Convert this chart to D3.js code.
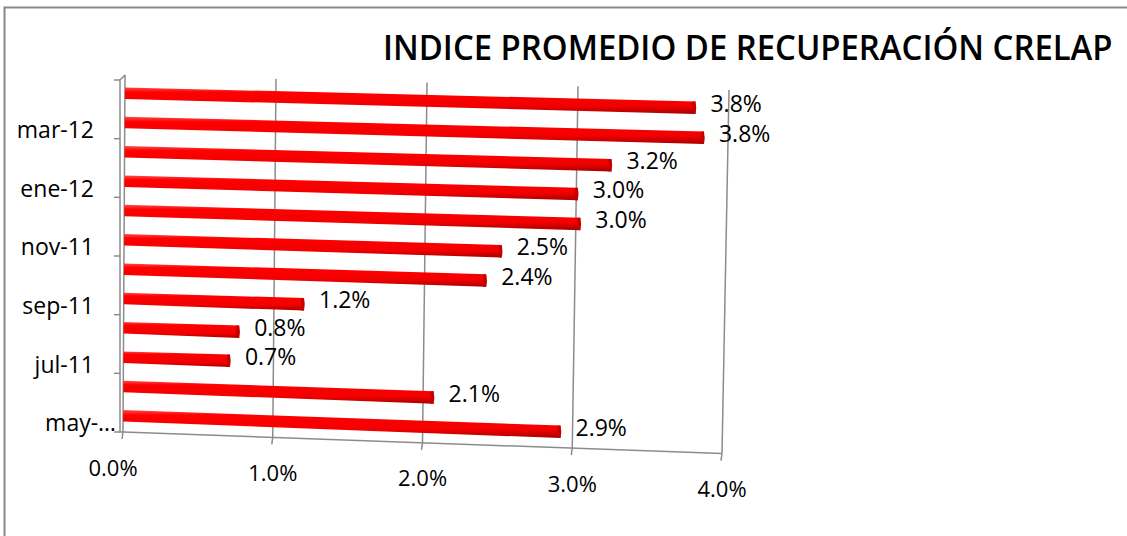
<!DOCTYPE html>
<html>
<head>
<meta charset="utf-8">
<script src="https://cdn.jsdelivr.net/npm/d3@7"></script>
<style>
  html, body { margin: 0; padding: 0; background: #fff; }
  svg { display: block; font-family: "Open Sans", sans-serif; }
</style>
</head>
<body>
<div id="chart"></div>
<script>
const title = "INDICE PROMEDIO DE RECUPERACIÓN CRELAP";
const categories = ["may-11", "jun-11", "jul-11", "ago-11", "sep-11", "oct-11",
                    "nov-11", "dic-11", "ene-12", "feb-12", "mar-12", "abr-12"];
const values = [2.92, 2.07, 0.71, 0.77, 1.20, 2.41, 2.51, 3.03, 3.01, 3.23, 3.84, 3.78];
const xTicks = [0, 1, 2, 3, 4];
// only every second month gets a label, as in the original
const yTickLabels = ["may-…", null, "jul-11", null, "sep-11", null, "nov-11", null, "ene-12", null, "mar-12", null];

(function () {
  const width = 1127, height = 536;
  const top = 77, floor = 432;

  const svg = d3.select("#chart").append("svg")
    .attr("width", width)
    .attr("height", height);

  const defs = svg.append("defs");
  const grad = defs.append("linearGradient")
    .attr("id", "barGrad")
    .attr("x1", 0).attr("y1", 0).attr("x2", 0).attr("y2", 1);
  grad.append("stop").attr("offset", "0%").attr("stop-color", "#ff4a4a");
  grad.append("stop").attr("offset", "18%").attr("stop-color", "#ff0000");
  grad.append("stop").attr("offset", "70%").attr("stop-color", "#f20000");
  grad.append("stop").attr("offset", "100%").attr("stop-color", "#a80000");

  // outer frame (only left and top edges are inside the picture)
  svg.append("rect")
    .attr("x", 4.5).attr("y", 7.5)
    .attr("width", 1140).attr("height", 560)
    .attr("fill", "none")
    .attr("stroke", "#878787")
    .attr("stroke-width", 2);

  // title, squeezed horizontally to the narrow width of the original face
  const titleText = svg.append("text")
    .attr("x", 0)
    .attr("y", 0)
    .attr("font-size", 35)
    .attr("font-weight", 600)
    .attr("fill", "#000")
    .text(title);
  const sx = 730 / titleText.node().getComputedTextLength();
  titleText.attr("transform", `translate(383,60) scale(${sx},1)`);

  // back plane and front floor scales (slight perspective)
  const xBack = d3.scaleLinear().domain([0, 4]).range([125, 729]);
  const xFront = d3.scaleLinear().domain([0, 4]).range([123, 722]);
  const y = d3.scaleBand().domain(categories).range([floor, top + 3]);

  const frac = yy => (yy - top) / (floor - top);
  const px = (v, f) => xBack(v) + (xFront(v) - xBack(v)) * f;
  const slope = f => 0.025 + 0.012 * f;
  const backTop = v => 75 + 0.025 * (xBack(v) - xBack(0));
  const floorY = v => floor + 0.036 * (xFront(v) - xFront(0));

  const grid = svg.append("g")
    .attr("stroke", "#8c8c8c")
    .attr("stroke-width", 1.5)
    .attr("fill", "none");

  // vertical gridlines
  grid.selectAll("line.grid")
    .data(xTicks)
    .join("line")
    .attr("class", "grid")
    .attr("x1", d => xBack(d))
    .attr("y1", d => backTop(d))
    .attr("x2", d => xFront(d))
    .attr("y2", d => floorY(d));

  // floor edge + ticks
  grid.append("line")
    .attr("x1", xFront(0)).attr("y1", floorY(0))
    .attr("x2", xFront(4)).attr("y2", floorY(4));
  grid.selectAll("line.xtick")
    .data(xTicks)
    .join("line")
    .attr("class", "xtick")
    .attr("x1", d => xFront(d)).attr("y1", d => floorY(d))
    .attr("x2", d => xFront(d) - 1).attr("y2", d => floorY(d) + 7);

  // category axis (side wall edge)
  grid.append("path")
    .attr("d", `M${xBack(0)},75 L120,80 L120,${floor} L${xFront(0)},${floor}`);
  const boundaries = d3.range(0, categories.length + 1, 2);
  grid.selectAll("line.ytick")
    .data(boundaries)
    .join("line")
    .attr("class", "ytick")
    .attr("x1", 114)
    .attr("x2", 120)
    .attr("y1", i => i < categories.length ? y(categories[i]) + y.bandwidth() : y(categories[i - 1]))
    .attr("y2", i => i < categories.length ? y(categories[i]) + y.bandwidth() : y(categories[i - 1]));

  const bw = 11.5;
  const bars = categories.map((c, i) => {
    const yc = y(c) + y.bandwidth() / 2 - 1.5;
    const f = frac(yc);
    const x0 = px(0, f), x1 = px(values[i], f);
    const y1 = yc + slope(f) * (x1 - x0);
    return { c, v: values[i], yc, x0, x1, y1 };
  });

  const g = svg.append("g");
  g.selectAll("path.bar")
    .data(bars)
    .join("path")
    .attr("class", "bar")
    .attr("fill", "url(#barGrad)")
    .attr("d", d => `M${d.x0},${d.yc - bw / 2} L${d.x1},${d.y1 - bw / 2 - 0.5} L${d.x1},${d.y1 + bw / 2 + 0.5} L${d.x0},${d.yc + bw / 2} Z`);

  // darker end cap
  g.selectAll("path.cap")
    .data(bars)
    .join("path")
    .attr("class", "cap")
    .attr("fill", "#c40000")
    .attr("d", d => `M${d.x1 - 3},${d.y1 - bw / 2 - 0.4} L${d.x1},${d.y1 - bw / 2 - 0.5} Q${d.x1 + 1.5},${d.y1} ${d.x1},${d.y1 + bw / 2 + 0.5} L${d.x1 - 3},${d.y1 + bw / 2 + 0.4} Z`);

  // value labels
  g.selectAll("text.val")
    .data(bars)
    .join("text")
    .attr("class", "val")
    .attr("x", d => d.x1 + 15)
    .attr("y", d => d.y1 - 4)
    .attr("dy", "0.35em")
    .attr("font-size", 23)
    .attr("fill", "#000")
    .text(d => d3.format(".1f")(d.v) + "%");

  // category labels
  svg.selectAll("text.cat")
    .data(categories.map((c, i) => ({ c, label: yTickLabels[i] })).filter(d => d.label))
    .join("text")
    .attr("class", "cat")
    .attr("x", d => d.label.endsWith("…") ? 116 : 94)
    .attr("y", d => y(d.c) + y.bandwidth() / 2 + 6)
    .attr("dy", "0.35em")
    .attr("text-anchor", "end")
    .attr("font-size", 23)
    .attr("fill", "#000")
    .text(d => d.label);

  // value axis labels (the origin label sits a little further left)
  svg.selectAll("text.xlab")
    .data(xTicks)
    .join("text")
    .attr("class", "xlab")
    .attr("x", d => xFront(d) - (d === 0 ? 10 : 0))
    .attr("y", d => floorY(d) + 36)
    .attr("dy", "0.35em")
    .attr("text-anchor", "middle")
    .attr("font-size", 22)
    .attr("fill", "#000")
    .text(d => d3.format(".1f")(d) + "%");
})();
</script>
</body>
</html>
